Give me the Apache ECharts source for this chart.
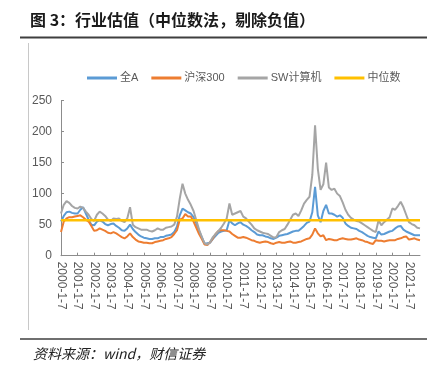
<!DOCTYPE html>
<html>
<head>
<meta charset="utf-8">
<script src="https://cdn.jsdelivr.net/npm/echarts@6/dist/echarts.min.js"></script>
<style>
html,body{margin:0;padding:0;background:#fff;}
#c{width:442px;height:373px;}
</style>
</head>
<body>
<div id="c"></div>
<script>
// Categories: bi-monthly observation dates, 2000-1-7 .. 2021-9-7
const years = [];
for (let y = 2000; y <= 2021; y++) years.push(y);
const months = [1, 3, 5, 7, 9, 11];
const categories = [];
years.forEach(y => months.forEach(m => { if (!(y === 2021 && m > 9)) categories.push(y + '-' + m + '-7'); }));

const seriesNames = ['全A', '沪深300', 'SW计算机', '中位数'];

const quanA = [
  55, 64, 70, 71, 69, 68,
  68, 74, 78, 68, 58, 50,
  49, 55, 57, 55, 51, 49,
  51, 52, 48, 45, 41, 40,
  44, 50, 43, 38, 34, 31,
  29, 28, 27, 27, 28, 28,
  30, 30, 32, 33, 34, 38,
  47, 65, 76, 73, 70, 68,
  62, 52, 40, 30, 19, 20,
  21, 27, 32, 37, 39, 40,
  41, 57, 52, 49, 52, 54,
  50, 48, 45, 41, 38, 34,
  33, 33, 31, 30, 28, 27,
  29, 32, 33, 34, 35, 37,
  39, 40, 40, 44, 48, 53,
  55, 70, 111, 65, 54, 72,
  82, 68, 68, 66, 63, 65,
  61, 52, 48, 45, 44, 43,
  40, 38, 35, 32, 30, 29,
  28, 39, 34, 35, 37, 39,
  40, 44, 47, 48, 42, 39,
  37, 35, 33, 33, 33
];

const hs300 = [
  38, 55, 60, 62, 62, 63,
  64, 65, 62, 58, 55, 48,
  40, 41, 44, 42, 40, 37,
  36, 38, 36, 33, 30, 28,
  31, 36, 30, 26, 23, 22,
  21, 21, 20, 20, 22, 23,
  24, 25, 27, 28, 30, 35,
  41, 58, 60, 67, 63, 63,
  55, 45, 35, 27, 18, 17,
  22, 28, 35, 40, 41, 41,
  40, 39, 35, 32, 29, 29,
  30, 29, 27, 25, 24, 22,
  21, 22, 23, 22, 20, 19,
  21, 22, 21, 21, 22, 23,
  21, 21, 22, 23, 25, 27,
  28, 34, 44, 36, 31, 33,
  25, 27, 26, 25, 25, 27,
  28, 27, 26, 26, 27, 28,
  26, 25, 23, 22, 20, 19,
  25, 24, 24, 23, 24, 25,
  25, 25, 27, 28, 30, 31,
  26, 27, 28, 26, 25
];

const swComputer = [
  68, 82, 88, 85, 80, 77,
  76, 79, 77, 71, 66, 59,
  56, 66, 71, 68, 64, 58,
  56, 60, 59, 60, 56, 54,
  60, 78, 50, 46, 44, 42,
  42, 42, 40, 39, 41, 44,
  42, 42, 45, 46, 47, 50,
  63, 92, 116, 100, 90, 82,
  72, 57, 42, 30, 20, 18,
  22, 30, 35, 40, 45, 52,
  60, 84, 66, 68, 70, 72,
  63, 60, 55, 50, 44, 41,
  39, 37, 36, 35, 32, 29,
  30, 38, 41, 43, 50, 58,
  66, 68, 64, 73, 84, 90,
  95, 130, 210, 140, 106, 115,
  150, 110, 106, 108, 100, 96,
  86, 74, 66, 61, 58, 56,
  55, 52, 49, 46, 43, 40,
  38, 57, 49, 54, 58, 62,
  76, 74, 80, 87, 78, 66,
  54, 51, 49, 45, 44
];

const MEDIAN = 57;
const yTicks = { min: 0, max: 250, interval: 50 };

const colors = ['#5B9BD5', '#ED7D31', '#A5A5A5', '#FFC000'];
const isYearStart = (val) => /-1-7$/.test(val);
const yearIdx = categories.map((c, i) => isYearStart(c) ? i : -1).filter(i => i >= 0);

const chart = echarts.init(document.getElementById('c'), null, { renderer: 'canvas' });
chart.setOption({
  animation: false,
  color: colors,
  textStyle: { fontFamily: '"Liberation Sans", Arial, "Noto Sans CJK SC", sans-serif' },
  grid: { left: 61, top: 100.5, width: 359, height: 155.2, containLabel: false },
  legend: {
    data: seriesNames,
    icon: 'rect',
    padding: 0,
    left: 87, top: 72.5,
    itemWidth: 30, itemHeight: 3, itemGap: 13,
    textStyle: { fontSize: 11, color: '#595959', padding: [0, 0, 0, -2] }
  },
  xAxis: {
    type: 'category',
    data: categories,
    boundaryGap: false,
    axisLine: { lineStyle: { color: '#8c8c8c', width: 1 } },
    axisTick: { inside: true, length: 3, customValues: yearIdx, lineStyle: { color: '#8c8c8c' } },
    axisLabel: {
      customValues: yearIdx, hideOverlap: false, minMargin: 0,
      rotate: -90, fontSize: 12, lineHeight: 12, color: '#595959', margin: 6
    },
    splitLine: { show: false }
  },
  yAxis: {
    type: 'value',
    min: yTicks.min, max: yTicks.max, interval: yTicks.interval,
    axisLine: { show: true, lineStyle: { color: '#8c8c8c', width: 1 } },
    axisTick: { show: true, inside: true, length: 3, lineStyle: { color: '#8c8c8c' } },
    axisLabel: { fontSize: 12, color: '#595959', margin: 9 },
    splitLine: { show: false }
  },
  series: [
    { name: seriesNames[0], type: 'line', data: quanA, symbol: 'none', lineStyle: { width: 2 } },
    { name: seriesNames[1], type: 'line', data: hs300, symbol: 'none', lineStyle: { width: 2 } },
    { name: seriesNames[2], type: 'line', data: swComputer, symbol: 'none', lineStyle: { width: 2 } },
    { name: seriesNames[3], type: 'line', data: categories.map(() => MEDIAN), symbol: 'none', lineStyle: { width: 2.5 } }
  ],
  graphic: [
    { type: 'text', left: 30, top: 12, style: { text: '图 3：行业估值（中位数法，剔除负值）', font: 'bold 16px "Noto Sans CJK SC", sans-serif', fill: '#1a1a1a' } },
    { type: 'line', shape: { x1: 20, y1: 37.5, x2: 427, y2: 37.5 }, style: { stroke: '#3f3f3f', lineWidth: 2 } },
    { type: 'line', shape: { x1: 28.5, y1: 43, x2: 28.5, y2: 330 }, style: { stroke: '#c8c8c8', lineWidth: 1 } },
    { type: 'line', shape: { x1: 20, y1: 339, x2: 427, y2: 339 }, style: { stroke: '#3f3f3f', lineWidth: 1.5 } },
    { type: 'text', left: 33, top: 347, style: { text: '资料来源：wind，财信证券', font: 'italic 14px "Noto Sans CJK SC", "Liberation Serif", serif', fill: '#222' } }
  ]
});
</script>
</body>
</html>
